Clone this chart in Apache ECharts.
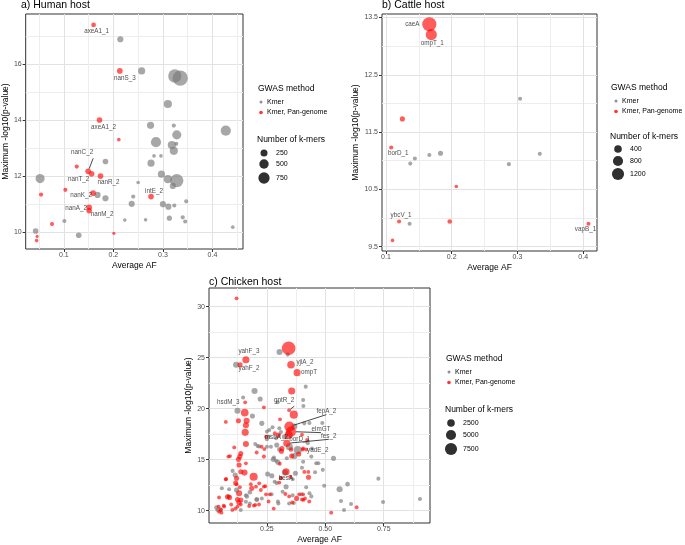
<!DOCTYPE html>
<html><head><meta charset="utf-8">
<script src="https://cdn.jsdelivr.net/npm/echarts@6/dist/echarts.min.js"></script>
<style>html,body{margin:0;padding:0;background:#fff}#c{width:685px;height:545px}</style>
</head><body><div id="c"></div>
<script>
const FONT = '"Liberation Sans", Arial, Helvetica, sans-serif';

// ---------- DATA: [Average AF, max -log10(p), number of k-mers, gene label] ----------
// a) Human host
const humanKmer = [[0.214,16.88,178],[0.257,15.75,263],[0.324,15.57,1053],[0.335,15.49,1421],[0.310,14.57,362],[0.275,13.81,263],[0.322,13.80,46],[0.427,13.62,599],[0.328,13.47,474],[0.286,13.21,599],[0.318,13.11,362],[0.327,13.15,46],[0.322,12.90,362],[0.282,12.72,20],[0.296,12.72,20],[0.184,12.52,140],[0.276,12.46,263],[0.052,11.91,474],[0.297,12.07,263],[0.310,11.89,362],[0.328,11.84,1053],[0.250,11.77,20],[0.320,11.65,178],[0.168,11.33,178],[0.240,11.27,46],[0.184,11.21,178],[0.237,11.01,178],[0.300,11.00,178],[0.311,10.91,178],[0.323,10.95,46],[0.347,11.10,46],[0.313,10.50,105],[0.340,10.53,46],[0.345,10.38,46],[0.101,10.40,46],[0.223,10.43,20],[0.265,10.44,20],[0.043,10.04,140],[0.130,9.89,140],[0.441,10.18,20]];
const humanPan = [[0.160,17.39,80,'axeA1_1'],[0.213,15.75,140,'nanS_3'],[0.172,14.00,140,'axeA1_2'],[0.211,13.30,20],[0.149,12.17,140,'nanC_2'],[0.156,12.08,140,'nanT_2'],[0.126,12.34,46],[0.174,12.00,140,'nanR_2'],[0.054,11.34,46],[0.103,11.51,46],[0.159,11.39,140,'nanK_2'],[0.151,10.89,140,'nanA_2'],[0.151,10.77,140,'nanM_2'],[0.076,10.29,46],[0.046,9.85,1],[0.045,9.70,20],[0.201,9.96,1],[0.276,11.27,140,'intE_2']];

// b) Cattle host
const cattleKmer = [[0.304,12.08,33],[0.144,11.04,33],[0.137,10.95,33],[0.166,11.10,33],[0.183,11.13,115],[0.287,10.94,33],[0.334,11.12,33],[0.136,9.90,33]];
const cattlePan = [[0.166,13.38,1674,'caeA'],[0.169,13.20,990,'ompT_1'],[0.125,11.73,115],[0.108,11.23,33,'borD_1'],[0.207,10.55,1],[0.120,9.94,33,'ybcV_1'],[0.110,9.61,1],[0.197,9.94,72],[0.408,9.90,33,'vapB_1']];

// c) Chicken host
const chickenKmer = [[0.304,25.56,1345],[0.339,25.30,190],[0.118,24.31,1345],[0.416,22.16,190],[0.197,21.73,1345],[0.221,20.95,718],[0.148,21.10,190],[0.296,20.62,190],[0.405,20.85,190],[0.406,20.26,190],[0.124,19.80,1345],[0.188,19.28,718],[0.228,18.56,718],[0.367,18.24,1345],[0.410,18.56,190],[0.432,18.60,190],[0.487,18.60,190],[0.274,18.17,190],[0.260,17.90,190],[0.303,18.07,190],[0.325,17.25,718],[0.346,16.27,2085],[0.382,15.94,2940],[0.367,15.36,1345],[0.443,16.10,190],[0.425,16.60,190],[0.461,14.64,190],[0.470,14.64,190],[0.535,15.13,718],[0.489,14.00,190],[0.456,13.76,190],[0.372,13.66,718],[0.327,13.73,1345],[0.360,13.07,190],[0.310,13.17,190],[0.271,13.43,718],[0.283,12.84,190],[0.292,12.70,190],[0.332,12.35,718],[0.317,11.86,190],[0.360,11.50,190],[0.432,11.70,190],[0.495,12.45,190],[0.561,12.10,1345],[0.595,12.60,450],[0.567,10.95,190],[0.580,10.07,190],[0.610,10.65,190],[0.727,13.14,190],[0.747,10.85,190],[0.905,11.14,190],[0.299,10.70,190],[0.345,10.70,190],[0.365,10.75,190],[0.114,13.50,718],[0.057,12.20,190],[0.088,12.10,190],[0.120,12.03,718],[0.177,11.80,450],[0.160,11.50,190],[0.206,11.10,450],[0.228,11.20,190],[0.253,13.60,718],[0.160,10.88,190],[0.038,10.07,190],[0.052,10.10,450],[0.138,10.07,190],[0.177,10.70,190],[0.200,16.53,190],[0.210,16.34,190],[0.250,16.27,190],[0.267,16.27,190],[0.292,16.44,718],[0.303,16.00,450],[0.277,15.03,718],[0.289,14.90,190],[0.297,14.74,718],[0.280,15.20,190],[0.335,15.13,190],[0.257,17.25,190],[0.250,17.00,190],[0.289,17.09,190],[0.310,17.70,190],[0.440,15.30,190],[0.405,14.80,190],[0.400,14.20,190],[0.418,12.30,190],[0.440,11.40,190],[0.397,11.60,190],[0.270,11.60,190],[0.297,10.90,190],[0.034,10.30,450],[0.164,11.40,450],[0.207,11.10,450],[0.103,13.90,190],[0.250,17.75,190],[0.216,16.30,190],[0.086,11.40,190]];
const chickenPan = [[0.120,30.82,100],[0.343,25.92,9678],[0.160,24.80,2085,'yahF_3'],[0.135,24.31,718,'yahF_2'],[0.353,24.30,2500,'yjiA_2'],[0.379,23.53,2085,'ompT'],[0.356,21.73,2085],[0.157,20.62,100,'hsdM_3'],[0.237,20.13,100],[0.345,19.85,100,'gntR_2'],[0.365,19.41,2940],[0.155,19.61,2500],[0.163,18.82,1345],[0.128,18.82,718],[0.074,18.70,100],[0.160,18.37,1345],[0.157,17.68,2085],[0.306,18.95,100],[0.346,18.24,4990,'fepA_2'],[0.353,17.75,4990,'elmGT'],[0.343,17.42,2940,'borD_1'],[0.299,17.42,718,'msbA_2'],[0.335,16.60,2085,'fes_2'],[0.314,16.10,718],[0.386,15.55,718,'yadE_2'],[0.356,15.36,718],[0.422,16.93,100],[0.403,16.00,100],[0.428,13.27,718],[0.332,13.82,2085],[0.350,13.33,100],[0.310,13.20,190,'besA'],[0.303,12.75,100],[0.329,11.63,100],[0.377,11.20,718],[0.406,11.05,100],[0.634,10.33,100],[0.525,9.80,100],[0.279,10.20,100],[0.110,16.20,100],[0.085,15.30,100],[0.092,15.35,100],[0.138,15.60,718],[0.134,15.30,718],[0.128,15.03,718],[0.160,16.53,1345],[0.160,14.64,100],[0.131,14.48,718],[0.138,13.82,718],[0.154,13.73,1345],[0.120,13.17,718],[0.193,13.33,2940],[0.074,13.07,100],[0.120,12.58,100],[0.134,12.30,100],[0.181,12.60,100],[0.185,12.20,718],[0.131,11.70,1345],[0.081,11.37,718],[0.090,11.30,718],[0.045,11.30,100],[0.124,11.10,718],[0.138,11.05,718],[0.217,12.68,100],[0.224,12.03,100],[0.257,10.90,100],[0.262,11.60,100],[0.243,12.40,100],[0.045,9.90,100],[0.055,9.80,100],[0.067,10.40,100],[0.102,10.07,100],[0.124,10.40,100],[0.174,10.46,100],[0.200,10.56,100],[0.138,10.60,100],[0.206,15.70,100],[0.227,16.27,100],[0.239,16.04,100],[0.237,15.30,190],[0.312,15.82,718],[0.305,14.60,100],[0.284,17.60,100],[0.246,17.25,100],[0.353,16.00,450],[0.405,16.10,100],[0.418,16.00,100],[0.410,13.80,100],[0.427,13.80,100],[0.388,11.60,100],[0.405,11.60,100],[0.400,11.10,100],[0.413,11.20,100],[0.431,10.90,100],[0.345,11.40,100],[0.358,10.80,100],[0.043,10.40,100],[0.052,10.10,100],[0.065,10.50,100],[0.097,10.60,100],[0.115,10.20,100],[0.194,10.50,100],[0.216,10.60,100],[0.246,11.60,100],[0.237,12.35,100],[0.203,12.35,100],[0.116,12.70,718],[0.130,10.80,718],[0.400,17.45,100],[0.075,13.10,100]];

// tick values
const humanXTicks = [0.1,0.2,0.3,0.4], humanXMinor = [0.05,0.15,0.25,0.35,0.45];
const humanYTicks = [10,12,14,16], humanYMinor = [11,13,15,17];
const cattleXTicks = [0.1,0.2,0.3,0.4], cattleXMinor = [0.15,0.25,0.35];
const cattleYTicks = [9.5,10.5,11.5,12.5,13.5], cattleYMinor = [10,11,12,13];
const chickenXTicks = [0.25,0.5,0.75], chickenXMinor = [0.125,0.375,0.625,0.875];
const chickenYTicks = [10,15,20,25,30], chickenYMinor = [12.5,17.5,22.5,27.5];
// legend breaks (Number of k-mers)
const humanSizeBreaks = [250,500,750];
const cattleSizeBreaks = [400,800,1200];
const chickenSizeBreaks = [2500,5000,7500];
const methodNames = ['Kmer','Kmer, Pan-genome'];

// ---------- STYLE / LAYOUT ----------
const GRAY = 'rgba(120,120,120,0.82)';
const RED = 'rgba(255,0,0,0.8)';
const sizeScale = [{a:10,b:0.156},{a:13,b:0.112},{a:13,b:0.018}];
const diam = (p, n) => Math.sqrt(sizeScale[p].a + sizeScale[p].b * n);

const labelOffsets = [
  {axeA1_1:[3,6], nanS_3:[5,7], axeA1_2:[4,7], nanC_2:[-6,-19], nanT_2:[-13,5], nanR_2:[8,6], nanK_2:[-12,2], nanA_2:[-13,1], nanM_2:[13,4], intE_2:[3,-5]},
  {caeA:[-17,0], ompT_1:[1,9], borD_1:[7,6], ybcV_1:[2,-6], vapB_1:[-3,5]},
  {yahF_3:[3,-8], yahF_2:[9,4], yjiA_2:[14,-3], ompT:[12,0], hsdM_3:[-17,0], gntR_2:[-5,-10], fepA_2:[37,-15], elmGT:[30,-2], msbA_2:[-2,2], borD_1:[11,4], fes_2:[42,-7], yadE_2:[19,-4], besA:[5,0]}
];
const leaderLines = [['nanC_2'], [], ['gntR_2','fepA_2','elmGT','fes_2']];

const grids = [
  {left:21, top:14, width:222, height:235},
  {left:382, top:14, width:215, height:237},
  {left:209, top:288, width:221, height:235}
];
const axes = [
  {x:[0.0229,0.4617,humanXTicks,humanXMinor,v=>v.toFixed(1)], y:[9.40,17.78,humanYTicks,humanYMinor,v=>String(v)], yGap:12},
  {x:[0.094,0.421,cattleXTicks,cattleXMinor,v=>v.toFixed(1)], y:[9.425,13.56,cattleYTicks,cattleYMinor,v=>v.toFixed(1)], yGap:15},
  {x:[0.002,0.948,chickenXTicks,chickenXMinor,v=>v.toFixed(2)], y:[8.79,31.83,chickenYTicks,chickenYMinor,v=>String(v)], yGap:14}
];

const xAxis = [], yAxis = [];
axes.forEach((ax, g) => {
  const [xmin,xmax,xt,xm,xf] = ax.x, [ymin,ymax,yt,ym,yf] = ax.y;
  xAxis.push({type:'value', gridIndex:g, min:xmin, max:xmax, position:'bottom',
    name:'Average AF', nameLocation:'middle', nameGap:12,
    nameTextStyle:{fontSize:8.5, color:'#000', fontFamily:FONT},
    axisLine:{show:false},
    axisTick:{show:true, length:3, lineStyle:{color:'#333', width:1}, customValues:xt},
    axisLabel:{customValues:xt, formatter:xf, fontSize:7, color:'#4d4d4d', margin:3, fontFamily:FONT},
    splitLine:{show:true, lineStyle:{color:'#e2e2e2', width:1}}});
  xAxis.push({type:'value', gridIndex:g, min:xmin, max:xmax, position:'top',
    axisLine:{show:false}, axisTick:{show:false, customValues:xm}, axisLabel:{show:false, customValues:xm},
    splitLine:{show:true, lineStyle:{color:'#ededed', width:1}}});
  yAxis.push({type:'value', gridIndex:g, min:ymin, max:ymax, position:'left',
    name:'Maximum -log10(p-value)', nameLocation:'middle', nameGap:ax.yGap,
    nameTextStyle:{fontSize:8.5, color:'#000', fontFamily:FONT},
    axisLine:{show:false},
    axisTick:{show:true, length:3, lineStyle:{color:'#333', width:1}, customValues:yt},
    axisLabel:{customValues:yt, formatter:yf, fontSize:7, color:'#4d4d4d', margin:4, fontFamily:FONT},
    splitLine:{show:true, lineStyle:{color:'#e2e2e2', width:1}}});
  yAxis.push({type:'value', gridIndex:g, min:ymin, max:ymax, position:'right',
    axisLine:{show:false}, axisTick:{show:false, customValues:ym}, axisLabel:{show:false, customValues:ym},
    splitLine:{show:true, lineStyle:{color:'#ededed', width:1}}});
});

const panels = [[humanKmer, humanPan],[cattleKmer, cattlePan],[chickenKmer, chickenPan]];
const series = [];
panels.forEach(([km, pan], p) => {
  const base = {type:'scatter', xAxisIndex:2*p, yAxisIndex:2*p, symbol:'circle',
    symbolSize:v => diam(p, v[2]), animation:false};
  series.push(Object.assign({}, base, {name:methodNames[0], itemStyle:{color:GRAY},
    data:km.map(d => ({value:[d[0],d[1],d[2]]}))}));
  series.push(Object.assign({}, base, {name:methodNames[1], itemStyle:{color:RED},
    data:pan.map(d => ({value:[d[0],d[1],d[2]], name:d[3]||''}))}));
  const labelled = pan.concat(km).filter(d => d[3]);
  series.push(Object.assign({}, base, {name:'labels'+p, silent:true, z:5,
    itemStyle:{color:'rgba(0,0,0,0)'},
    label:{show:true, position:'inside', formatter:'{b}', fontSize:6.3, color:'#1a1a1a', fontFamily:FONT},
    labelLine:{show:false, lineStyle:{color:'#1a1a1a', width:0.8}},
    data:labelled.map(d => ({value:[d[0],d[1],d[2]], name:d[3],
      label:{offset:labelOffsets[p][d[3]] || [0,0]},
      labelLine:{show:leaderLines[p].indexOf(d[3]) >= 0}}))}));
});

// legends
const legendPos = [
  {x:258, y:89, kx:261, sy:140, sx:264, sys:[153,164,178], tx:276, breaks:humanSizeBreaks},
  {x:611, y:88, kx:616, sy:137, sx:618, sys:[149,161,174], tx:630, breaks:cattleSizeBreaks},
  {x:446, y:359, kx:449, sy:410, sx:451, sys:[423,435,449], tx:463, breaks:chickenSizeBreaks}
];
const graphic = [];
legendPos.forEach((L, p) => {
  graphic.push({type:'text', style:{text:'GWAS method', x:L.x, y:L.y, fill:'#000', font:'8.5px '+FONT, textVerticalAlign:'middle'}});
  [[GRAY,3],[RED,3.6]].forEach(([c,d], i) => {
    const yy = L.y + 13 + i*10.5;
    graphic.push({type:'circle', shape:{cx:L.kx, cy:yy, r:d/2}, style:{fill:c}});
    graphic.push({type:'text', style:{text:methodNames[i], x:L.kx+6, y:yy, fill:'#000', font:'7px '+FONT, textVerticalAlign:'middle'}});
  });
  graphic.push({type:'text', style:{text:'Number of k-mers', x:L.x-1, y:L.sy, fill:'#000', font:'8.5px '+FONT, textVerticalAlign:'middle'}});
  L.breaks.forEach((b, i) => {
    graphic.push({type:'circle', shape:{cx:L.sx, cy:L.sys[i], r:diam(p,b)/2}, style:{fill:'rgba(25,25,25,0.9)'}});
    graphic.push({type:'text', style:{text:String(b), x:L.tx, y:L.sys[i], fill:'#000', font:'7px '+FONT, textVerticalAlign:'middle'}});
  });
});

const chart = echarts.init(document.getElementById('c'), null, {renderer:'canvas'});
chart.setOption({
  animation:false,
  backgroundColor:'#fff',
  title:[
    {text:'a) Human host', left:21, top:0, padding:0, textStyle:{fontSize:10.5, fontWeight:'normal', color:'#000', fontFamily:FONT}},
    {text:'b) Cattle host', left:382, top:0, padding:0, textStyle:{fontSize:10.5, fontWeight:'normal', color:'#000', fontFamily:FONT}},
    {text:'c) Chicken host', left:209, top:277, padding:0, textStyle:{fontSize:10.5, fontWeight:'normal', color:'#000', fontFamily:FONT}}
  ],
  grid:grids.map(g => Object.assign({show:true, borderColor:'#333', borderWidth:1, containLabel:false}, g)),
  xAxis, yAxis, series, graphic
});
</script></body></html>
